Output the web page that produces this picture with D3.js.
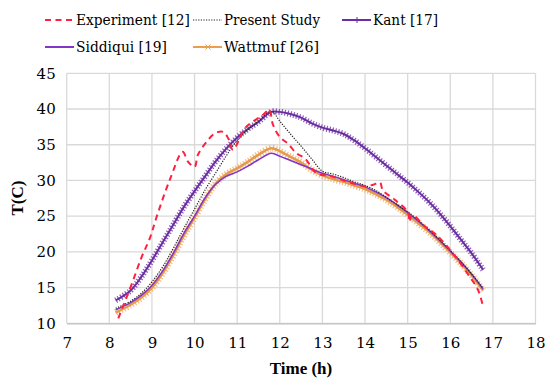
<!DOCTYPE html>
<html>
<head>
<meta charset="utf-8">
<script src="https://cdnjs.cloudflare.com/ajax/libs/d3/7.8.5/d3.min.js"></script>
<style>
body { margin: 0; background: #fff; }
</style>
</head>
<body>
<svg width="545" height="378"></svg>
<script>
// values
var times = [8.15, 8.5, 8.75, 9, 9.25, 9.5, 9.75, 10, 10.25, 10.5, 10.75, 11, 11.25, 11.5, 11.8,
	12, 12.25, 12.5, 12.75, 13, 13.25, 13.5, 13.75, 14, 14.25, 14.5, 14.75, 15, 15.25, 15.5, 15.75,
	16, 16.25, 16.5, 16.77];
var kant = [13.2, 14.6, 16.5, 18.8, 21.3, 23.8, 26.3, 28.5, 30.6, 32.7, 34.5, 36.0, 37.2, 38.2, 39.6,
	39.6, 39.3, 38.8, 38.0, 37.4, 37.0, 36.5, 35.6, 34.5, 33.3, 32.1, 30.9, 29.7, 28.4, 27.0, 25.4,
	23.6, 21.7, 19.8, 17.5];
var siddiqui = [11.9, 12.9, 13.9, 15.3, 17.3, 19.8, 22.6, 25.0, 27.6, 29.5, 30.6, 31.2, 32.0, 32.9, 33.8,
	33.4, 32.8, 32.2, 31.6, 31.0, 30.6, 30.1, 29.6, 29.1, 28.4, 27.6, 26.6, 25.5, 24.3, 23.0, 21.6,
	20.1, 18.6, 16.9, 14.8];
var wattmuf = [11.5, 12.6, 13.6, 15.0, 17.0, 19.5, 22.3, 24.8, 27.4, 29.6, 30.9, 31.7, 32.6, 33.6, 34.5,
	34.1, 33.3, 32.5, 31.5, 30.7, 30.2, 29.8, 29.3, 28.8, 28.1, 27.3, 26.3, 25.2, 24.0, 22.8, 21.4,
	19.9, 18.4, 16.7, 14.6];
var present = [12.1, 13.1, 14.2, 15.8, 17.9, 20.5, 23.3, 26.0, 28.7, 31.1, 33.5, 35.6, 37.1, 38.3, 39.7,
	38.3, 36.5, 34.8, 33.0, 31.3, 30.9, 30.4, 29.8, 29.3, 28.6, 27.6, 26.6, 25.6, 24.4, 23.1, 21.7,
	20.2, 18.6, 16.9, 14.9];

var expTimes = [8.21, 8.52, 8.76, 8.95, 9.11, 9.42, 9.72, 9.85, 10.0, 10.08, 10.28, 10.48, 10.67, 10.79,
	10.9, 11.18, 11.38, 11.61, 11.75, 11.84, 12.0, 12.2, 12.39, 12.59, 12.86, 13.2, 13.6, 14.0, 14.19,
	14.35, 14.42, 14.7, 15.0, 15.05, 15.1, 15.4, 15.67, 16.06, 16.4, 16.65, 16.77];
var experiment = [10.7, 15.4, 19.3, 21.9, 24.9, 30.1, 34.0, 32.6, 31.9, 33.6, 35.4, 36.6, 36.8, 35.9,
	34.3, 37.3, 38.3, 39.2, 39.9, 37.8, 36.1, 35.1, 33.8, 33.1, 31.0, 30.6, 29.8, 29.2, 29.4,
	29.7, 28.6, 27.3, 25.6, 24.2, 25.2, 23.6, 22.4, 19.8, 17.0, 14.7, 12.3];

var xTicks = [7, 8, 9, 10, 11, 12, 13, 14, 15, 16, 17, 18];
var yTicks = [10, 15, 20, 25, 30, 35, 40, 45];

var serif = "DejaVu Serif, serif";
var serifBold = "Liberation Serif";

var svg = d3.select("svg");

var x = d3.scaleLinear().domain([7, 18]).range([66.7, 535.5]);
var y = d3.scaleLinear().domain([10, 45]).range([323.3, 73.3]);

// grid
svg.append("g").selectAll("line")
	.data(xTicks)
	.enter().append("line")
	.attr("x1", function(d) { return x(d); })
	.attr("x2", function(d) { return x(d); })
	.attr("y1", y(45))
	.attr("y2", y(10))
	.attr("stroke", "#d9d9d9")
	.attr("stroke-width", 1.3);

svg.append("g").selectAll("line")
	.data(yTicks)
	.enter().append("line")
	.attr("x1", x(7))
	.attr("x2", x(18))
	.attr("y1", function(d) { return y(d); })
	.attr("y2", function(d) { return y(d); })
	.attr("stroke", "#d9d9d9")
	.attr("stroke-width", 1.3);

// axes
var xAxis = svg.append("g")
	.attr("transform", "translate(0," + y(10) + ")")
	.call(d3.axisBottom(x).tickValues(xTicks).tickSize(0).tickPadding(14).tickFormat(d3.format("d")));
xAxis.attr("font-family", serif).attr("font-size", 15);
xAxis.select(".domain").attr("stroke", "#bfbfbf").attr("stroke-width", 1.3);
xAxis.selectAll("text").attr("fill", "#000");

var yAxis = svg.append("g")
	.attr("transform", "translate(" + x(7) + ",0)")
	.call(d3.axisLeft(y).tickValues(yTicks).tickSize(0).tickPadding(11).tickFormat(d3.format("d")));
yAxis.attr("font-family", serif).attr("font-size", 15);
yAxis.select(".domain").remove();
yAxis.selectAll("text").attr("fill", "#000");

svg.append("text")
	.attr("x", 301)
	.attr("y", 374)
	.attr("text-anchor", "middle")
	.attr("font-family", serifBold)
	.attr("font-size", 17)
	.attr("font-weight", "bold")
	.text("Time (h)");

svg.append("text")
	.attr("transform", "translate(23," + 198 + ") rotate(-90)")
	.attr("text-anchor", "middle")
	.attr("font-family", serifBold)
	.attr("font-size", 17)
	.attr("font-weight", "bold")
	.text("T(C)");

function pts(xs, ys) {
	return xs.map(function(t, i) { return [t, ys[i]]; });
}

var line = d3.line()
	.x(function(d) { return x(d[0]); })
	.y(function(d) { return y(d[1]); })
	.curve(d3.curveCatmullRom.alpha(0.5));

var plot = svg.append("g");

// Wattmuf: orange with dense x markers
plot.append("path")
	.attr("d", line(pts(times, wattmuf)))
	.attr("fill", "none")
	.attr("stroke", "#f3b06a")
	.attr("stroke-width", 7)
	.attr("stroke-dasharray", "1.2,1.8")
	.attr("opacity", 0.85);
plot.append("path")
	.attr("d", line(pts(times, wattmuf)))
	.attr("fill", "none")
	.attr("stroke", "#e59a4c")
	.attr("stroke-width", 2.5);

// Siddiqui
plot.append("path")
	.attr("d", line(pts(times, siddiqui)))
	.attr("fill", "none")
	.attr("stroke", "#8136c8")
	.attr("stroke-width", 1.6);

// Kant: purple with dense + markers
plot.append("path")
	.attr("d", line(pts(times, kant)))
	.attr("fill", "none")
	.attr("stroke", "#7a3fb0")
	.attr("stroke-width", 6)
	.attr("stroke-dasharray", "1.2,1.8")
	.attr("opacity", 0.85);
plot.append("path")
	.attr("d", line(pts(times, kant)))
	.attr("fill", "none")
	.attr("stroke", "#6a2ea0")
	.attr("stroke-width", 2);

// Present study
plot.append("path")
	.attr("d", line(pts(times, present)))
	.attr("fill", "none")
	.attr("stroke", "#222")
	.attr("stroke-width", 1.2)
	.attr("stroke-dasharray", "1.2,1.4");

// Experiment
plot.append("path")
	.attr("d", line(pts(expTimes, experiment)))
	.attr("fill", "none")
	.attr("stroke", "#ff2040")
	.attr("stroke-width", 2)
	.attr("stroke-dasharray", "6,4.5");

// legend
var legend = [
	{ name: "Experiment [12]", x: 45, y: 20, color: "#ff2040", dash: "6,4.5", w: 2, mark: null, len: 114 },
	{ name: "Present Study", x: 193, y: 20, color: "#222", dash: "1.2,1.4", w: 1.2, mark: null, len: 96 },
	{ name: "Kant [17]", x: 342, y: 20, color: "#6a2ea0", dash: null, w: 2, mark: "plus", len: 65 },
	{ name: "Siddiqui [19]", x: 45, y: 47, color: "#8136c8", dash: null, w: 2, mark: null, len: 91 },
	{ name: "Wattmuf [26]", x: 193, y: 47, color: "#ed9d4e", dash: null, w: 2, mark: "cross", len: 95 }
];

var lg = svg.append("g").selectAll("g")
	.data(legend)
	.enter().append("g")
	.attr("transform", function(d) { return "translate(" + d.x + "," + d.y + ")"; });

lg.append("line")
	.attr("x1", 0)
	.attr("x2", 29)
	.attr("stroke", function(d) { return d.color; })
	.attr("stroke-width", function(d) { return d.w; })
	.attr("stroke-dasharray", function(d) { return d.dash; });

lg.filter(function(d) { return d.mark; })
	.append("path")
	.attr("d", function(d) {
		return d.mark == "plus" ? "M12,0H18M15,-3V3" : "M12.5,-2.5L17.5,2.5M12.5,2.5L17.5,-2.5";
	})
	.attr("stroke", function(d) { return d.color; })
	.attr("stroke-width", 1);

lg.append("text")
	.attr("x", 31)
	.attr("y", 0)
	.attr("dy", "0.36em")
	.attr("font-family", serif)
	.attr("font-size", 15)
	.attr("textLength", function(d) { return d.len; })
	.attr("lengthAdjust", "spacingAndGlyphs")
	.text(function(d) { return d.name; });
</script>
</body>
</html>
